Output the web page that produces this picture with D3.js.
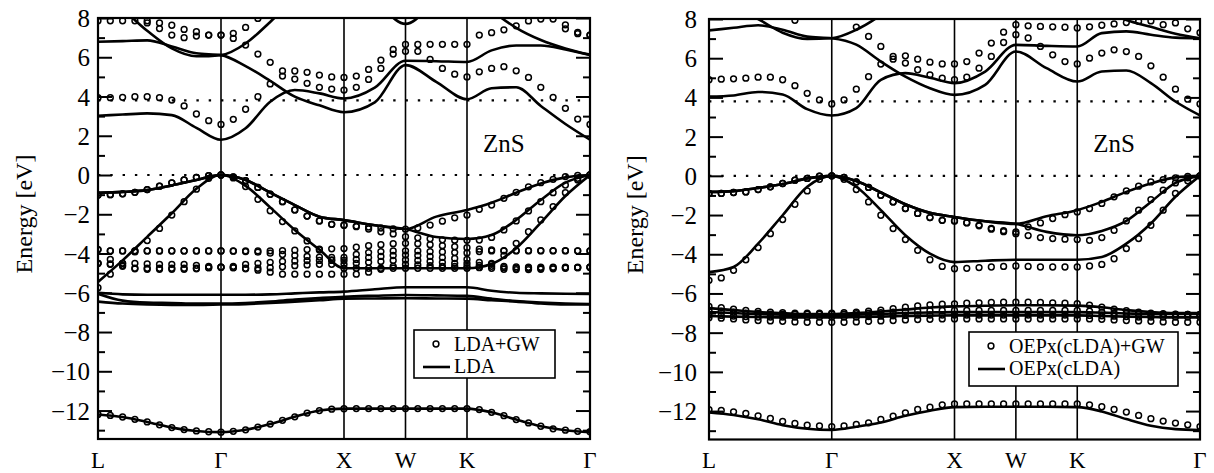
<!DOCTYPE html>
<html><head><meta charset="utf-8">
<script src="https://cdn.jsdelivr.net/npm/d3@7"></script>
<style>body{margin:0;background:#fff} svg text{font-family:'Liberation Serif','DejaVu Serif',serif !important;fill:#000}
svg .tick text{font-size:25px}</style>
</head><body><svg id="c" width="1214" height="473"></svg>
<script>
// ---- k-path ----
const kLabels = ["L","Γ","X","W","K","Γ"];
const kTicks = [0,1,2,2.5,3,4];
const kGW = [0,0.1,0.2,0.3,0.4,0.5,0.6,0.7,0.8,0.9,1.0,1.1,1.2,1.3,1.4,1.5,1.6,1.7,1.8,1.9,2.0,2.1,2.2,2.3,2.4,2.5,2.6,2.7,2.8,2.9,3.0,3.1,3.2,3.3,3.4,3.5,3.6,3.7,3.8,3.9,4.0];
const kLDA = [0,0.2,0.4,0.6,0.8,1,1.2,1.4,1.6,1.8,2,2.25,2.5,2.75,3,3.2,3.4,3.6,3.8,4];
const yMajor = [-12,-10,-8,-6,-4,-2,0,2,4,6,8];
const yMinor = [-13,-11,-9,-7,-5,-3,-1,1,3,5,7];
const expGap = 3.8;

// ---- left panel: LDA (lines) ----
const ldaS  = [-12.2,-12.33,-12.58,-12.87,-13.04,-13.1, -12.98,-12.69,-12.32,-12.0,-11.9, -11.9,-11.9, -11.9,-11.9, -12.09,-12.46,-12.8,-13.0,-13.1];
const ldaD1 = [-6.0,-6.08,-6.1,-6.1,-6.1,-6.1, -6.1,-6.08,-6.03,-5.98,-5.94, -5.82,-5.72, -5.72,-5.72, -5.9,-6.0,-6.03,-6.05,-6.06];
const ldaD2 = [-6.05,-6.4,-6.5,-6.52,-6.55,-6.55, -6.52,-6.45,-6.35,-6.27,-6.2, -6.15,-6.11, -6.13,-6.16, -6.3,-6.42,-6.5,-6.55,-6.57];
const ldaD3 = [-6.45,-6.55,-6.6,-6.62,-6.62,-6.6, -6.58,-6.52,-6.45,-6.38,-6.3, -6.29,-6.28, -6.29,-6.3, -6.38,-6.45,-6.55,-6.6,-6.6];
const ldaVC = [-5.45,-4.35,-3.15,-1.95,-0.7,0, -0.55,-1.65,-2.8,-3.8,-4.75, -4.75,-4.75, -4.75,-4.75, -4.53,-3.73,-2.43,-1.07,0];
const ldaVB = [-0.9,-0.86,-0.77,-0.53,-0.25,0, -0.25,-0.9,-1.53,-2.12,-2.3, -2.56,-2.75, -3.16,-3.26, -3.06,-2.29,-1.27,-0.39,0];
const ldaVA = [-0.9,-0.86,-0.77,-0.53,-0.25,0, -0.25,-0.9,-1.53,-2.12,-2.3, -2.56,-2.75, -2.12,-1.78, -1.41,-0.9,-0.43,-0.12,0];
const ldaC1 = [3.02,3.08,3.14,3.05,2.4,1.8, 2.38,3.73,4.33,4.16,3.9, 4.45,5.82, 5.8,5.76, 6.35,6.6,6.6,6.4,6.11];
const ldaC2 = [6.79,6.82,6.86,6.55,6.2,6.11, 5.55,4.8,3.99,3.55,3.2, 3.7,5.6, 4.75,3.86, 4.42,4.47,3.52,2.6,1.8];
const ldaC3 = [9.0,8.4,7.35,6.45,6.05,6.11, 6.7,7.8,9.0,10,11, 11,11, 11,9.6, 8.4,7.5,6.88,6.45,6.13];
const ldaC4 = [12,12,12,12,12,12, 12,12,12,12,10, 8.9,7.7, 8.9,10, 12,12,12,12,12];

// ---- left panel: LDA+GW (circles) ----
const gwS  = [-12.2,-12.25,-12.33,-12.45,-12.58,-12.73,-12.87,-12.97,-13.04,-13.08,-13.1, -13.06,-12.98,-12.84,-12.69,-12.5,-12.32,-12.13,-12.0,-11.93,-11.91, -11.9,-11.9,-11.9,-11.9,-11.9,-11.9,-11.9,-11.9,-11.9,-11.9, -11.95,-12.09,-12.26,-12.46,-12.63,-12.8,-12.93,-13.0,-13.06,-13.08];
const gwD1 = [-3.8,-3.87,-3.87,-3.87,-3.87,-3.87,-3.87,-3.87,-3.87,-3.87,-3.87, -3.87,-3.87,-3.87,-3.86,-3.85,-3.83,-3.8,-3.78,-3.76,-3.75, -3.68,-3.6,-3.55,-3.5,-3.48, -3.5,-3.55,-3.6,-3.65,-3.7, -3.78,-3.82,-3.85,-3.85,-3.85,-3.85,-3.85,-3.85,-3.86,-3.87];
const gwD2 = [-3.8,-3.87,-3.87,-3.87,-3.87,-3.87,-3.87,-3.87,-3.87,-3.87,-3.87, -3.88,-3.9,-3.93,-3.98,-4.05,-4.1,-4.15,-4.18,-4.2,-4.2, -4.05,-3.95,-3.9,-3.87,-3.86, -3.87,-3.9,-3.92,-3.95,-3.97, -3.9,-3.87,-3.87,-3.87,-3.87,-3.87,-3.87,-3.87,-3.87,-3.87];
const gwD3 = [-4.5,-4.3,-4.5,-4.5,-4.53,-4.55,-4.55,-4.55,-4.6,-4.65,-4.7, -4.65,-4.55,-4.5,-4.45,-4.4,-4.38,-4.36,-4.35,-4.35,-4.35, -4.3,-4.2,-4.15,-4.1,-4.08, -4.1,-4.15,-4.2,-4.25,-4.3, -4.45,-4.55,-4.65,-4.68,-4.7,-4.7,-4.7,-4.7,-4.7,-4.7];
const gwD4 = [-4.5,-4.53,-4.6,-4.75,-4.75,-4.75,-4.75,-4.75,-4.75,-4.72,-4.7, -4.72,-4.75,-4.75,-4.72,-4.68,-4.62,-4.58,-4.55,-4.55,-4.55, -4.5,-4.45,-4.4,-4.35,-4.33, -4.35,-4.4,-4.45,-4.5,-4.5, -4.6,-4.65,-4.72,-4.75,-4.75,-4.75,-4.72,-4.72,-4.72,-4.7];
const gwD5 = [-4.5,-4.55,-4.65,-4.78,-4.8,-4.8,-4.8,-4.8,-4.78,-4.72,-4.7, -4.72,-4.78,-4.85,-4.95,-5.05,-5.05,-5.05,-5.05,-5.05,-5.05, -5.05,-4.95,-4.8,-4.65,-4.55, -4.58,-4.62,-4.65,-4.65,-4.65, -4.7,-4.75,-4.8,-4.82,-4.82,-4.8,-4.78,-4.75,-4.72,-4.7];
const gwVC = [-5.74,-5.05,-4.5,-3.92,-3.34,-2.72,-2.04,-1.36,-0.72,-0.17,0, -0.15,-0.59,-1.24,-1.82,-2.37,-2.85,-3.36,-3.82,-4.33,-4.75, -4.75,-4.75,-4.75,-4.75,-4.75, -4.75,-4.75,-4.75,-4.75,-4.75, -4.72,-4.5,-4.1,-3.48,-2.89,-2.29,-1.61,-0.9,-0.25,0];
const gwVB = [-1.02,-1.0,-0.96,-0.88,-0.74,-0.57,-0.4,-0.25,-0.12,-0.03,0, -0.09,-0.29,-0.63,-0.98,-1.36,-1.78,-2.09,-2.34,-2.51,-2.56, -2.63,-2.75,-2.89,-3.0,-3.14, -3.2,-3.25,-3.3,-3.32,-3.33, -3.31,-3.18,-2.8,-2.34,-1.83,-1.36,-0.9,-0.51,-0.17,0];
const gwVA = [-1.02,-1.0,-0.96,-0.88,-0.74,-0.57,-0.4,-0.25,-0.12,-0.03,0, -0.09,-0.29,-0.63,-0.98,-1.36,-1.78,-2.09,-2.34,-2.51,-2.56, -2.6,-2.65,-2.7,-2.74,-2.76, -2.7,-2.55,-2.35,-2.18,-2.04, -1.75,-1.53,-1.19,-0.88,-0.6,-0.39,-0.22,-0.08,-0.02,0];
const gwC1 = [3.94,3.94,3.96,3.99,3.99,3.94,3.82,3.52,3.11,2.77,2.58, 2.84,3.35,3.99,4.64,5.04,5.3,5.23,5.09,5.0,4.97, 5.04,5.38,5.85,6.4,6.65, 6.65,6.66,6.66,6.66,6.66, 7.13,7.25,7.4,7.6,7.85,7.95,7.95,7.45,7.27,7.13];
const gwC2 = [7.86,7.86,7.86,7.86,7.86,7.75,7.63,7.42,7.3,7.13,7.13, 6.96,6.62,6.16,5.74,5.3,4.89,4.67,4.47,4.38,4.33, 4.47,4.87,5.43,6.16,6.3, 6.3,5.89,5.43,5.14,5.0, 5.26,5.43,5.52,5.31,4.97,4.47,3.96,3.4,2.85,2.58];
const gwC3 = [8.9,8.7,8.4,8.1,7.75,7.46,7.13,7.0,7.08,7.13,7.13, 7.22,7.52,7.98,8.5,9,9.5,9.8,10,10,10, 10,10,10,10,10, 10,10,10,10,10, 10,10,10,10,10,9,8.5,7.65,7.2,7.13];

// ---- right panel: OEPx(cLDA) (lines) ----
const oepS  = [-12.07,-12.2,-12.42,-12.72,-12.9,-12.96, -12.8,-12.58,-12.24,-11.98,-11.8, -11.78,-11.78, -11.78,-11.8, -12.02,-12.41,-12.75,-12.92,-12.97];
const oepD1 = [-6.75,-6.85,-6.95,-7.0,-7.05,-7.05, -7.0,-6.92,-6.82,-6.72,-6.66, -6.63,-6.6, -6.6,-6.62, -6.7,-6.85,-6.95,-7.0,-7.0];
const oepD2 = [-6.95,-7.0,-7.05,-7.08,-7.1,-7.1, -7.08,-7.05,-7.0,-6.97,-6.95, -6.95,-6.95, -6.95,-6.95, -6.98,-7.02,-7.05,-7.05,-7.05];
const oepD3 = [-7.15,-7.18,-7.2,-7.22,-7.22,-7.22, -7.2,-7.18,-7.15,-7.13,-7.12, -7.12,-7.12, -7.12,-7.12, -7.15,-7.18,-7.2,-7.22,-7.22];
const oepVC = [-4.91,-4.65,-3.46,-2.01,-0.56,0, -0.56,-1.75,-3.03,-3.97,-4.4, -4.33,-4.28, -4.28,-4.28, -4.14,-3.46,-2.43,-1.07,0];
const oepVB = [-0.82,-0.78,-0.62,-0.42,-0.13,0, -0.26,-0.85,-1.45,-1.89,-2.1, -2.32,-2.45, -2.86,-3.03, -2.81,-2.3,-1.33,-0.36,0];
const oepVA = [-0.82,-0.78,-0.62,-0.42,-0.13,0, -0.26,-0.85,-1.45,-1.89,-2.1, -2.32,-2.45, -2.06,-1.75, -1.33,-0.82,-0.39,-0.08,0];
const oepC1 = [4.04,4.1,4.28,4.15,3.4,3.08, 3.45,4.9,5.24,5.0,4.73, 5.32,6.68, 6.63,6.6, 7.28,7.37,7.2,7.05,7.02];
const oepC2 = [7.42,7.55,7.68,7.45,7.1,7.02, 6.69,5.83,5.06,4.47,4.13, 4.64,6.34, 5.49,4.81, 5.32,5.37,4.73,3.79,3.08];
const oepC3 = [9.2,8.6,8.0,7.3,6.98,7.02, 7.45,8.2,9.2,10,11, 11,11, 11,9.6, 8.5,7.95,7.6,7.25,7.02];

// ---- right panel: OEPx(cLDA)+GW (circles) ----
const ogS  = [-11.93,-11.97,-12.04,-12.12,-12.24,-12.38,-12.53,-12.63,-12.72,-12.76,-12.79, -12.76,-12.68,-12.6,-12.43,-12.26,-12.09,-11.92,-11.8,-11.68,-11.64, -11.64,-11.64,-11.64,-11.64,-11.64,-11.64,-11.64,-11.64,-11.64,-11.64, -11.68,-11.78,-11.92,-12.05,-12.22,-12.39,-12.51,-12.61,-12.7,-12.79];
const ogD1 = [-6.66,-6.72,-6.8,-6.87,-6.92,-6.96,-6.98,-7.0,-7.0,-7.0,-7.0, -6.98,-6.95,-6.9,-6.85,-6.78,-6.7,-6.63,-6.58,-6.55,-6.53, -6.5,-6.48,-6.46,-6.45,-6.45, -6.45,-6.46,-6.48,-6.5,-6.52, -6.6,-6.7,-6.8,-6.88,-6.95,-7.0,-7.03,-7.05,-7.07,-7.07];
const ogD2 = [-6.87,-6.9,-6.95,-7.0,-7.02,-7.05,-7.05,-7.05,-7.05,-7.05,-7.05, -7.05,-7.03,-7.0,-6.98,-6.95,-6.92,-6.9,-6.88,-6.87,-6.87, -6.87,-6.87,-6.87,-6.87,-6.87, -6.87,-6.87,-6.87,-6.87,-6.87, -6.9,-6.95,-7.0,-7.02,-7.05,-7.07,-7.07,-7.07,-7.07,-7.07];
const ogD3 = [-7.24,-7.26,-7.3,-7.35,-7.38,-7.4,-7.42,-7.45,-7.47,-7.47,-7.47, -7.47,-7.45,-7.42,-7.4,-7.38,-7.35,-7.33,-7.32,-7.3,-7.3, -7.3,-7.3,-7.3,-7.3,-7.3, -7.3,-7.3,-7.3,-7.3,-7.3, -7.3,-7.32,-7.35,-7.38,-7.4,-7.42,-7.45,-7.47,-7.47,-7.47];
const ogD4 = [-7.1,-7.12,-7.15,-7.18,-7.2,-7.2,-7.2,-7.2,-7.2,-7.2,-7.2, -7.2,-7.2,-7.18,-7.16,-7.14,-7.12,-7.1,-7.1,-7.1,-7.1, -7.1,-7.1,-7.1,-7.1,-7.1, -7.1,-7.1,-7.1,-7.1,-7.1, -7.12,-7.14,-7.16,-7.18,-7.2,-7.2,-7.2,-7.2,-7.2,-7.2];
const ogVC = [-5.33,-5.21,-4.82,-4.28,-3.66,-2.95,-2.23,-1.45,-0.77,-0.18,0, -0.18,-0.7,-1.33,-2.01,-2.69,-3.25,-3.8,-4.28,-4.62,-4.74, -4.72,-4.68,-4.65,-4.62,-4.6, -4.62,-4.65,-4.65,-4.65,-4.65, -4.6,-4.52,-4.23,-3.71,-3.2,-2.52,-1.75,-0.9,-0.25,0];
const ogVB = [-0.9,-0.9,-0.85,-0.82,-0.7,-0.56,-0.39,-0.22,-0.13,-0.02,0, -0.08,-0.31,-0.59,-0.99,-1.33,-1.67,-1.92,-2.13,-2.27,-2.3, -2.4,-2.55,-2.72,-2.85,-2.95, -3.05,-3.15,-3.2,-3.23,-3.25, -3.29,-3.15,-2.78,-2.3,-1.75,-1.21,-0.73,-0.36,-0.1,0];
const ogVA = [-0.9,-0.9,-0.85,-0.82,-0.7,-0.56,-0.39,-0.22,-0.13,-0.02,0, -0.08,-0.31,-0.59,-0.99,-1.33,-1.67,-1.92,-2.13,-2.27,-2.3, -2.39,-2.51,-2.68,-2.8,-2.86, -2.6,-2.4,-2.18,-1.98,-1.84, -1.67,-1.41,-1.07,-0.77,-0.53,-0.31,-0.2,-0.1,-0.03,0];
const ogC1 = [4.9,4.93,4.95,4.98,5.03,5.03,4.9,4.6,4.21,3.87,3.67, 3.87,4.42,5.06,5.7,5.95,6.12,5.95,5.8,5.71,5.71, 5.83,6.26,6.77,7.33,7.71, 7.65,7.62,7.6,7.58,7.54, 7.6,7.68,7.75,7.82,7.88,7.9,7.71,7.8,7.5,7.3];
const ogC2 = [9.3,9.0,8.8,8.6,8.3,8.1,8.1,7.93,8.1,8.25,8.4, 8.15,7.59,7.11,6.6,6.09,5.75,5.41,5.15,4.98,4.9, 5.03,5.49,6.09,6.8,7.2, 7.03,6.6,6.17,5.83,5.71, 6.0,6.26,6.43,6.34,6.09,5.61,5.03,4.42,3.91,3.67];

const FONT = "Liberation Serif";
const svg = d3.select("#c");
let panelId = 0;

function txt(sel){ return sel.attr("font-family", FONT).attr("fill", "#000"); }

function panel(cfg){
  const id = "p" + (panelId++);
  const x = d3.scaleLinear().domain([0,4]).range([cfg.x0, cfg.x1]);
  const y = d3.scaleLinear().domain([-13.45, 8]).range([cfg.y1, cfg.y0]);
  const g = svg.append("g");
  g.append("clipPath").attr("id", id).append("rect")
    .attr("x", cfg.x0).attr("y", cfg.y0).attr("width", cfg.x1 - cfg.x0).attr("height", cfg.y1 - cfg.y0);
  const plot = g.append("g").attr("clip-path", `url(#${id})`);

  [0, expGap].forEach(e => {
    plot.append("line").attr("x1", cfg.x0).attr("x2", cfg.x1).attr("y1", y(e)).attr("y2", y(e))
      .attr("stroke", "#000").attr("stroke-width", 2.2).attr("stroke-dasharray", "2.4,9.9");
  });
  kTicks.slice(1, -1).forEach(k => {
    plot.append("line").attr("x1", x(k)).attr("x2", x(k)).attr("y1", cfg.y0).attr("y2", cfg.y1)
      .attr("stroke", "#000").attr("stroke-width", 1.6);
  });
  const line = d3.line().x((d, i) => x(kLDA[i])).y(d => y(d)).curve(d3.curveMonotoneX);
  cfg.lines.forEach(b => {
    plot.append("path").attr("d", line(b)).attr("fill", "none").attr("stroke", "#000").attr("stroke-width", 2.6);
  });
  cfg.dots.forEach(b => {
    plot.append("g").selectAll("circle").data(b.map((v, i) => [kGW[i], v]).filter(d => d[1] <= 8.05))
      .join("circle").attr("cx", d => x(d[0])).attr("cy", d => y(d[1])).attr("r", 2.9)
      .attr("fill", "none").attr("stroke", "#000").attr("stroke-width", 1.5);
  });
  g.append("rect").attr("x", cfg.x0).attr("y", cfg.y0).attr("width", cfg.x1 - cfg.x0).attr("height", cfg.y1 - cfg.y0)
    .attr("fill", "none").attr("stroke", "#000").attr("stroke-width", 2.2);

  const axL = g.append("g").attr("transform", `translate(${cfg.x0},0)`)
    .call(d3.axisLeft(y).tickValues(yMajor).tickSize(-14).tickPadding(cfg.pad));
  const axLm = g.append("g").attr("transform", `translate(${cfg.x0},0)`)
    .call(d3.axisLeft(y).tickValues(yMinor).tickSize(-7).tickFormat(""));
  const axR = g.append("g").attr("transform", `translate(${cfg.x1},0)`)
    .call(d3.axisRight(y).tickValues(yMajor).tickSize(-14).tickFormat(""));
  const axRm = g.append("g").attr("transform", `translate(${cfg.x1},0)`)
    .call(d3.axisRight(y).tickValues(yMinor).tickSize(-7).tickFormat(""));
  [axL, axLm, axR, axRm].forEach(a => {
    a.attr("font-family", FONT).attr("font-size", 25);
    a.select(".domain").remove();
    a.selectAll("line").attr("stroke", "#000").attr("stroke-width", 2);
  });
  txt(axL.selectAll("text")).attr("font-size", 25).style("font-size", "25px").attr("dy", "0.34em");

  kTicks.forEach((k, i) => {
    txt(g.append("text")).attr("x", x(k)).attr("y", 468).attr("text-anchor", "middle")
      .attr("font-size", 23).text(kLabels[i]);
  });
  txt(g.append("text")).attr("transform", `translate(${cfg.x0 - 66},${(cfg.y0 + cfg.y1) / 2 - 14.5}) rotate(-90)`)
    .attr("text-anchor", "middle").attr("font-size", 24).text("Energy [eV]");
  txt(g.append("text")).attr("x", x(cfg.zx)).attr("y", 152).attr("text-anchor", "middle").attr("font-size", 25).text("ZnS");

  const L = cfg.leg;
  g.append("rect").attr("x", L.x).attr("y", L.y).attr("width", L.w).attr("height", L.h)
    .attr("fill", "#fff").attr("stroke", "#000").attr("stroke-width", 1.6);
  g.append("circle").attr("cx", L.x + 22).attr("cy", L.y + 14).attr("r", 2.9)
    .attr("fill", "none").attr("stroke", "#000").attr("stroke-width", 1.5);
  txt(g.append("text")).attr("x", L.x + 40).attr("y", L.y + 21).attr("font-size", 20).text(L.t1);
  g.append("line").attr("x1", L.x + 9).attr("x2", L.x + 36).attr("y1", L.y + 37).attr("y2", L.y + 37)
    .attr("stroke", "#000").attr("stroke-width", 2.6);
  txt(g.append("text")).attr("x", L.x + 40).attr("y", L.y + 43).attr("font-size", 20).text(L.t2);
}

panel({
  x0: 98, x1: 590, y0: 18, y1: 439, zx: 3.3, pad: 8,
  lines: [ldaS, ldaD1, ldaD2, ldaD3, ldaVC, ldaVB, ldaVA, ldaC1, ldaC2, ldaC3, ldaC4],
  dots: [gwS, gwD1, gwD2, gwD3, gwD4, gwD5, gwVC, gwVB, gwVA, gwC1, gwC2, gwC3],
  leg: {x: 414, y: 330, w: 141, h: 48, t1: "LDA+GW", t2: "LDA"}
});
panel({
  x0: 709, x1: 1200, y0: 19, y1: 439.5, zx: 3.3, pad: 12,
  lines: [oepS, oepD1, oepD2, oepD3, oepVC, oepVB, oepVA, oepC1, oepC2, oepC3],
  dots: [ogS, ogD1, ogD2, ogD3, ogD4, ogVC, ogVB, ogVA, ogC1, ogC2],
  leg: {x: 969, y: 332, w: 209, h: 54, t1: "OEPx(cLDA)+GW", t2: "OEPx(cLDA)"}
});
</script></body></html>
